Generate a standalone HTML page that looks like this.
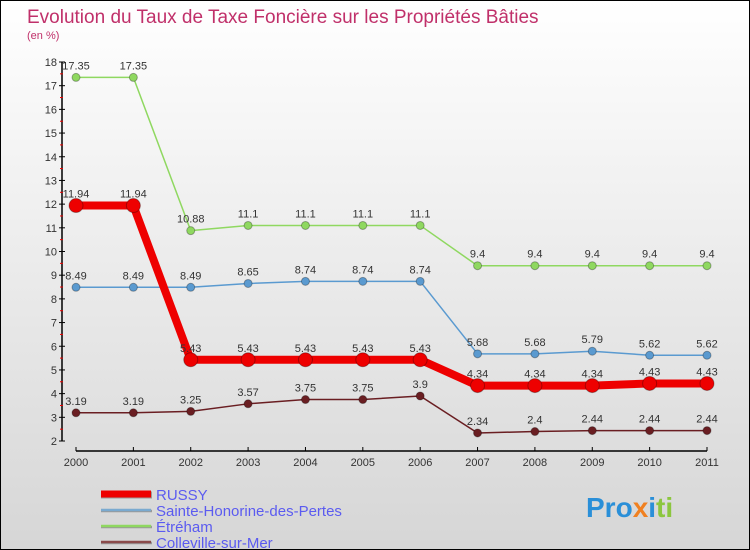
<!DOCTYPE html>
<html><head><meta charset="utf-8"><style>
body{margin:0}
#c{width:750px;height:550px;position:relative;overflow:hidden;box-sizing:border-box;border:1px solid #000;background:linear-gradient(#fff,#d6d6d6);font-family:"Liberation Sans",sans-serif}
</style></head><body>
<div id="c">
<svg id="s" width="748" height="548" style="position:absolute;left:0;top:0">
<text x="26" y="22" font-size="19" fill="#c0306a">Evolution du Taux de Taxe Foncière sur les Propriétés Bâties</text>
<text x="26" y="38" font-size="11" fill="#c0306a">(en %)</text>
<g id="g"></g>
<text x="585" y="516" font-size="28" font-weight="bold"><tspan fill="#2a8fd8">Pro</tspan><tspan fill="#f08020">x</tspan><tspan fill="#2a8fd8">i</tspan><tspan fill="#8cc63f">ti</tspan></text>
</svg>
</div>
<script>
const years=[2000,2001,2002,2003,2004,2005,2006,2007,2008,2009,2010,2011];
const russy=[11.94,11.94,5.43,5.43,5.43,5.43,5.43,4.34,4.34,4.34,4.43,4.43];
const sainte=[8.49,8.49,8.49,8.65,8.74,8.74,8.74,5.68,5.68,5.79,5.62,5.62];
const etreham=[17.35,17.35,10.88,11.1,11.1,11.1,11.1,9.4,9.4,9.4,9.4,9.4];
const colleville=[3.19,3.19,3.25,3.57,3.75,3.75,3.9,2.34,2.4,2.44,2.44,2.44];
const yTicks=[2,3,4,5,6,7,8,9,10,11,12,13,14,15,16,17,18];
const NS="http://www.w3.org/2000/svg";
const g=document.getElementById('g');
const x=i=>75+i*(706-75)/(years.length-1);
const y=v=>440-(v-2)*(440-61)/16;
function el(t,a,p){const e=document.createElementNS(NS,t);for(const k in a)e.setAttribute(k,a[k]);(p||g).appendChild(e);return e;}
let e;
e=el('line',{x1:61,y1:y(18),x2:61,y2:y(2),stroke:'#000','stroke-width':1.5});


e=el('line',{x1:75,y1:450,x2:706,y2:450,stroke:'#000','stroke-width':1.5});


yTicks.forEach(v=>{
 el('line',{x1:58,y1:y(v),x2:64,y2:y(v),stroke:'#000'});
 if(v<18)el('line',{x1:59,y1:y(v+0.5),x2:62,y2:y(v+0.5),stroke:'#e00'});
 e=el('text',{x:56,y:y(v)+4,'text-anchor':'end','font-size':11,fill:'#333'});
 e.textContent=v;
 
 
});
years.forEach((yr,i)=>{
 el('line',{x1:x(i),y1:446,x2:x(i),y2:450,stroke:'#000'});
 e=el('text',{x:x(i),y:465,'text-anchor':'middle','font-size':11,fill:'#333'});
 e.textContent=yr;
 
 
});
function series(data,color,w,r,name){
 e=el('polyline',{points:data.map((v,i)=>x(i)+','+y(v)).join(' '),fill:'none',stroke:color,'stroke-width':w,'stroke-linejoin':'round'});
 
 
 data.forEach((v,i)=>{
  e=el('circle',{cx:x(i),cy:y(v),r:r,fill:color,stroke:'rgba(0,0,0,0.3)','stroke-width':1});
  
  
  e=el('text',{x:x(i),y:y(v)-8,'text-anchor':'middle','font-size':11,fill:'#333'});
  e.textContent=v;
  
  
 });
}
series(etreham,'#8fd860',1.5,4,'etreham');
series(sainte,'#5a9ad0',1.5,4,'sainte-honorine');
series(colleville,'#6a1e22',1.5,4,'colleville');
series(russy,'#ee0000',8,7,'russy');
const legNames=['RUSSY','Sainte-Honorine-des-Pertes','Étréham','Colleville-sur-Mer'];
const legColors=['#ee0000','#7aaad0','#8fd860','#8a4a4a'];
const legW=[7,2.5,2.5,2.5];
legNames.forEach((n,i)=>{
 const yy=493+i*16;
 el('line',{x1:100,y1:yy+1,x2:151,y2:yy+1,stroke:'#999','stroke-width':legW[i]});
 e=el('line',{x1:100,y1:yy,x2:150,y2:yy,stroke:legColors[i],'stroke-width':legW[i]});
 
 
 e=el('text',{x:155,y:yy+6,'font-size':15,fill:'#5b5bf0'});
 e.textContent=n;
 
 
});
</script>
</body></html>
